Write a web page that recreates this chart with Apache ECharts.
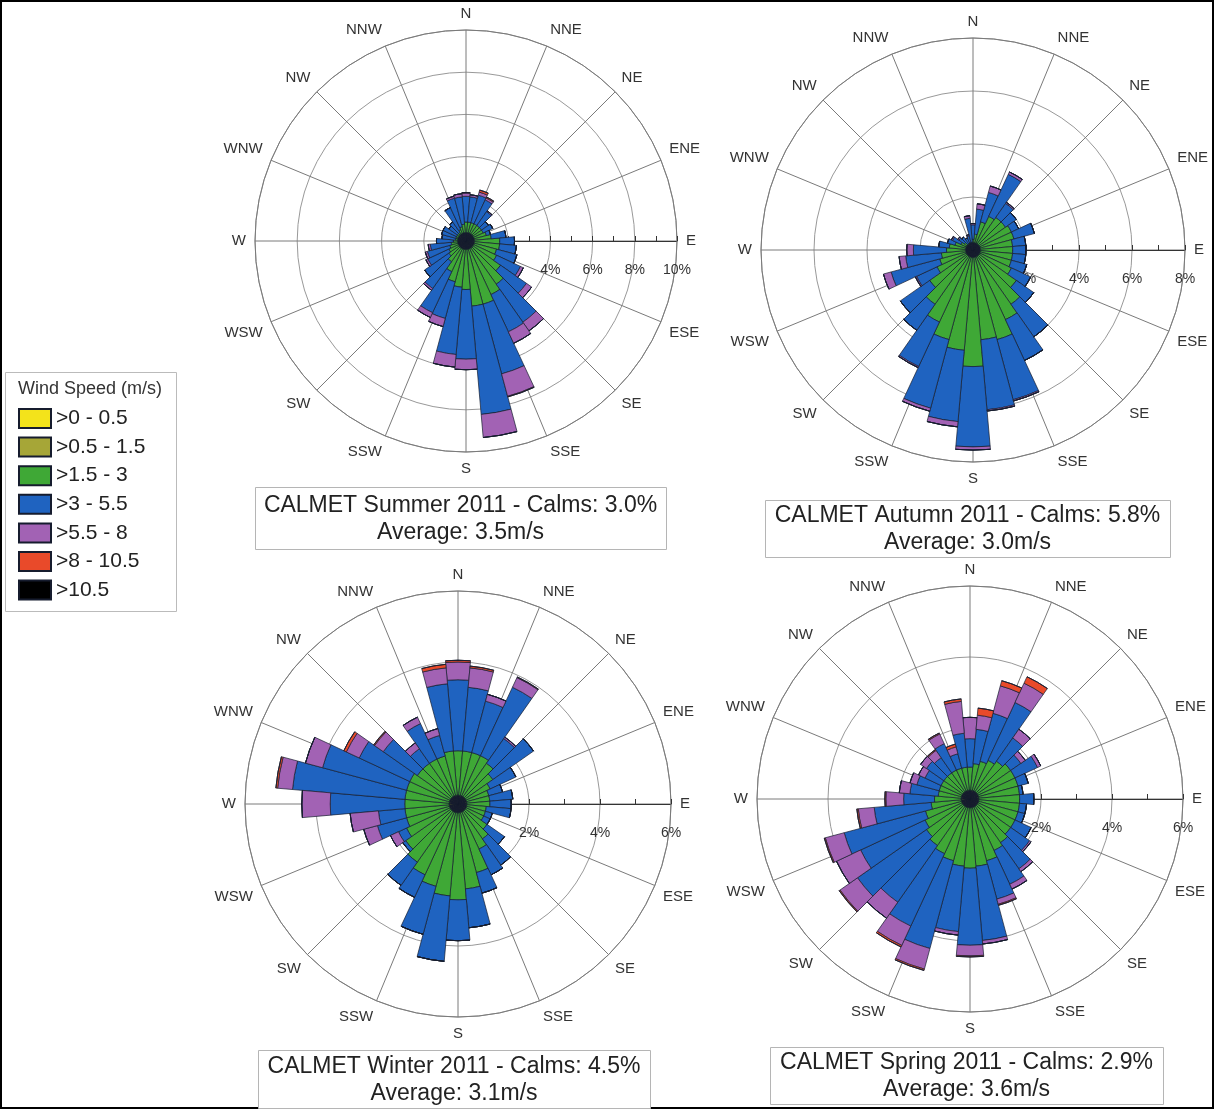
<!DOCTYPE html>
<html>
<head>
<meta charset="utf-8">
<title>CALMET wind roses 2011</title>
<script src="https://cdn.jsdelivr.net/npm/echarts@6/dist/echarts.min.js"></script>
<style>
html, body { margin: 0; padding: 0; background: #fff; }
#chart { width: 1215px; height: 1110px; }
</style>
</head>
<body>
<div id="chart"></div>
<script>
// wind direction sectors (degrees from north, clockwise), 10 deg wide
var directions = [0,10,20,30,40,50,60,70,80,90,100,110,120,130,140,150,160,170,180,190,200,210,220,230,240,250,260,270,280,290,300,310,320,330,340,350];
var compassLabels = ['N','NNE','NE','ENE','E','ESE','SE','SSE','S','SSW','SW','WSW','W','WNW','NW','NNW'];
var speedBins = ['>0 - 0.5', '>0.5 - 1.5', '>1.5 - 3', '>3 - 5.5', '>5.5 - 8', '>8 - 10.5', '>10.5'];
var binColors = ['#f3e31b', '#a6a637', '#3fa836', '#1f63c0', '#a262b4', '#e94a2a', '#000000'];

// frequency (%) per speed bin and direction
var summerYellow = [0.05,0.05,0.05,0.05,0.05,0.05,0.05,0.05,0.05,0.05,0.05,0.05,0.05,0.05,0.05,0.05,0.05,0.05,0.05,0.05,0.05,0.05,0.05,0.05,0.05,0.05,0.05,0.05,0.05,0.05,0.05,0.05,0.05,0.05,0.05,0.05];
var summerOlive = [0.35,0.35,0.35,0.35,0.35,0.35,0.35,0.35,0.35,0.35,0.35,0.35,0.35,0.35,0.35,0.35,0.35,0.35,0.35,0.35,0.35,0.35,0.35,0.35,0.35,0.35,0.35,0.35,0.35,0.35,0.35,0.35,0.35,0.35,0.35,0.35];
var summerGreen = [0.5,0.5,0.5,0.5,0.5,0.5,0.5,0.6,0.8,1.2,1.2,1.1,1.2,1.6,2.1,2.4,2.7,2.7,1.9,1.8,1.6,1.2,0.8,0.6,0.5,0.4,0.3,0.2,0.1,0.1,0.1,0.1,0.1,0.2,0.3,0.4];
var summerBlue = [1.22,1.2,1.35,1.25,0.8,0.4,0.5,0.2,0.7,0.7,0.8,1.0,1.25,1.5,2.2,1.95,3.42,5.15,3.3,3.2,1.8,2.15,1.55,1.4,1.1,1.1,1.0,0.8,0.65,0.7,0.7,0.5,0.6,1.15,1.4,1.3];
var summerPurple = [0.15,0.1,0.15,0.1,0.05,0,0,0,0,0,0,0,0.15,0.3,0.5,0.6,1.1,1.1,0.5,0.6,0.4,0.25,0.1,0,0.1,0.1,0.1,0,0,0,0,0,0,0,0.1,0.15];
var summerRed = [0.03,0,0.1,0.05,0,0,0,0,0,0,0,0,0,0,0,0,0.03,0,0,0,0,0,0,0,0,0,0,0,0,0,0,0,0,0,0,0];
var summerBlack = [0,0,0,0,0,0,0,0,0,0,0,0,0,0,0,0,0,0,0,0,0,0,0,0,0,0,0,0,0,0,0,0,0,0,0,0];

var autumnYellow = [0.03,0.03,0.03,0.03,0.03,0.03,0.03,0.03,0.03,0.03,0.03,0.03,0.03,0.03,0.03,0.03,0.03,0.03,0.03,0.03,0.03,0.03,0.03,0.03,0.03,0.03,0.03,0.03,0.03,0.03,0.03,0.03,0.03,0.03,0.03,0.03];
var autumnOlive = [0.25,0.25,0.25,0.25,0.25,0.25,0.25,0.25,0.25,0.25,0.25,0.25,0.25,0.25,0.25,0.25,0.25,0.25,0.25,0.25,0.25,0.25,0.25,0.25,0.25,0.25,0.25,0.25,0.25,0.25,0.25,0.25,0.25,0.25,0.25,0.25];
var autumnGreen = [0.12,0.32,0.82,1.12,1.22,1.22,1.32,1.32,1.22,1.22,1.22,1.22,1.32,1.72,2.22,2.62,3.22,3.12,4.12,3.52,3.22,2.72,2.22,1.72,1.22,1.02,0.92,0.72,0.62,0.42,0.22,0.12,0.02,0.02,0.02,0.02];
var autumnBlue = [0.55,0.95,1.15,1.75,0.65,0.5,0.3,0.8,0.5,0.5,0.5,0.6,0.8,0.8,1.5,1.7,2.35,2.65,3.03,2.7,2.68,1.85,1.2,1.35,0.85,1.9,1.35,1.25,0.4,0.3,0.35,0.25,0.3,0.2,0.25,0.9];
var autumnPurple = [0.05,0.2,0.25,0.1,0.05,0,0,0,0,0,0,0,0,0,0,0,0.05,0.05,0.12,0.2,0.12,0.05,0,0,0.05,0.3,0.25,0.25,0,0,0.05,0.05,0,0,0.05,0.1];
var autumnRed = [0,0,0,0,0,0,0,0,0,0,0,0,0,0,0,0,0,0,0,0,0,0,0,0,0,0,0,0,0,0,0,0,0,0,0,0];
var autumnBlack = [0,0,0,0,0,0,0,0,0,0,0,0,0,0,0,0,0,0,0,0,0,0,0,0,0,0,0,0,0,0,0,0,0,0,0,0];

var winterYellow = [0.03,0.03,0.03,0.03,0.03,0.03,0.03,0.03,0.03,0.03,0.03,0.03,0.03,0.03,0.03,0.03,0.03,0.03,0.03,0.03,0.03,0.03,0.03,0.03,0.03,0.03,0.03,0.03,0.03,0.03,0.03,0.03,0.03,0.03,0.03,0.03];
var winterOlive = [0.22,0.22,0.22,0.22,0.22,0.22,0.22,0.22,0.22,0.22,0.22,0.22,0.22,0.22,0.22,0.22,0.22,0.22,0.22,0.22,0.22,0.22,0.22,0.22,0.22,0.22,0.22,0.22,0.22,0.22,0.22,0.22,0.22,0.22,0.22,0.22];
var winterGreen = [1.25,1.25,1.25,1.25,1.15,0.95,0.75,0.65,0.65,0.65,0.55,0.55,0.55,0.75,0.95,1.15,1.75,2.15,2.45,2.35,2.15,1.95,1.75,1.55,1.35,1.25,1.25,1.25,1.25,1.25,1.25,1.15,1.15,1.15,1.15,1.25];
var winterBlue = [2.0,1.8,1.5,2.13,0.85,1.4,0.8,0.4,0.65,0.6,0.7,0.2,0.2,0.6,0.9,0.8,0.6,1.1,1.15,1.85,1.4,0.7,0.8,0.1,0.25,0.85,0.75,2.1,3.18,2.45,1.57,1.17,0.5,1.1,0.6,1.9];
var winterPurple = [0.5,0.55,0.2,0.3,0.05,0,0,0,0,0,0,0,0,0,0,0,0,0,0,0,0,0,0,0,0.25,0.4,0.8,0.8,0.42,0.5,0.4,0.3,0.2,0.2,0.2,0.45];
var winterRed = [0.05,0.05,0,0.02,0,0,0,0,0,0,0,0,0,0,0,0,0,0,0,0,0,0,0,0,0,0,0,0,0.05,0,0.08,0.03,0,0,0,0.1];
var winterBlack = [0,0,0,0,0,0,0,0,0,0,0,0,0,0,0,0,0,0,0,0,0,0,0,0,0,0,0,0,0,0,0,0,0,0,0,0];

var springYellow = [0.03,0.03,0.03,0.03,0.03,0.03,0.03,0.03,0.03,0.03,0.03,0.03,0.03,0.03,0.03,0.03,0.03,0.03,0.03,0.03,0.03,0.03,0.03,0.03,0.03,0.03,0.03,0.03,0.03,0.03,0.03,0.03,0.03,0.03,0.03,0.03];
var springOlive = [0.22,0.22,0.22,0.22,0.22,0.22,0.22,0.22,0.22,0.22,0.22,0.22,0.22,0.22,0.22,0.22,0.22,0.22,0.22,0.22,0.22,0.22,0.22,0.22,0.22,0.22,0.22,0.22,0.22,0.22,0.22,0.22,0.22,0.22,0.22,0.22];
var springGreen = [0.65,0.75,0.85,0.95,1.05,1.15,1.15,1.15,1.15,1.15,1.15,1.15,1.15,1.15,1.25,1.35,1.55,1.65,1.7,1.65,1.55,1.45,1.35,1.25,1.15,1.05,0.85,0.75,0.65,0.65,0.65,0.65,0.65,0.65,0.65,0.65];
var springBlue = [0.8,0.97,1.4,1.8,0.8,0.35,0.7,0.3,0.1,0.4,0.2,0.2,0.5,0.65,0.9,1.05,1.12,2.1,2.17,1.85,2.56,2.25,1.95,2.37,2.0,2.37,1.61,0.87,0.8,0.65,0.5,0.6,0.52,0.82,0.42,0.96];
var springPurple = [0.6,0.4,0.8,0.6,0.3,0.15,0.1,0,0,0,0,0,0,0.05,0.1,0.15,0.15,0.1,0.3,0.1,0.6,0.6,0.55,0.6,0.75,0.55,0.45,0.5,0.3,0.2,0.2,0.2,0.25,0.3,0.2,0.9];
var springRed = [0,0.2,0.15,0.2,0,0,0,0,0,0,0,0,0,0,0,0,0.03,0,0.03,0,0.04,0.05,0,0.03,0,0.03,0.04,0.03,0,0,0,0,0.03,0.03,0.08,0.07];
var springBlack = [0,0,0,0,0,0,0,0,0,0,0,0,0,0,0,0,0,0,0,0,0,0,0,0,0,0,0,0,0,0,0,0,0,0,0,0];

var seasonBins = [
  [summerYellow, summerOlive, summerGreen, summerBlue, summerPurple, summerRed, summerBlack],
  [autumnYellow, autumnOlive, autumnGreen, autumnBlue, autumnPurple, autumnRed, autumnBlack],
  [winterYellow, winterOlive, winterGreen, winterBlue, winterPurple, winterRed, winterBlack],
  [springYellow, springOlive, springGreen, springBlue, springPurple, springRed, springBlack]
];
var radiusMax = [10, 8, 6, 6];
var captions = [
  'CALMET Summer 2011 - Calms: 3.0%\nAverage: 3.5m/s',
  'CALMET Autumn 2011 - Calms: 5.8%\nAverage: 3.0m/s',
  'CALMET Winter 2011 - Calms: 4.5%\nAverage: 3.1m/s',
  'CALMET Spring 2011 - Calms: 2.9%\nAverage: 3.6m/s'
];

// layout
var centers = [[466, 241], [973, 250], [458, 804], [970, 799]];
var radii = [211, 212, 213, 213];
var captionBoxes = [[255, 487, 411, 62], [765, 500, 405, 57], [258, 1050, 392, 58], [770, 1047, 393, 57]];

var FONT = '"Liberation Sans", Arial, sans-serif';

var polar = [], angleAxis = [], radiusAxis = [], series = [];
for (var i = 0; i < 4; i++) {
  // grid (compass spokes, rings, % labels)
  polar.push({ center: centers[i], radius: radii[i] });
  // bars
  polar.push({ center: centers[i], radius: radii[i] });

  angleAxis.push({
    polarIndex: 2 * i,
    type: 'value', min: 0, max: 360, interval: 22.5,
    startAngle: 0, clockwise: true,
    axisLine: { lineStyle: { color: '#7a7a7a', width: 1 } },
    axisTick: { show: false },
    splitLine: { show: true, lineStyle: { color: '#7a7a7a', width: 1 } },
    axisLabel: {
      margin: 9, fontSize: 15, color: '#333', fontFamily: FONT,
      formatter: function (v) {
        var bearing = (v + 90) % 360;
        return compassLabels[Math.round(bearing / 22.5) % 16];
      }
    }
  });
  radiusAxis.push({
    polarIndex: 2 * i,
    type: 'value', min: 0, max: radiusMax[i], interval: 2,
    axisLine: { lineStyle: { color: '#333', width: 1 } },
    axisTick: { show: true, length: 5, lineStyle: { color: '#333' } },
    minorTick: { show: true, splitNumber: 2, length: 5, lineStyle: { color: '#333' } },
    splitLine: { show: true, lineStyle: { color: '#999', width: 1 } },
    axisLabel: {
      margin: -29, verticalAlign: 'middle', align: 'center',
      fontSize: 14, color: '#333', fontFamily: FONT,
      formatter: function (v) { return v === 0 ? '' : v + '%'; }
    }
  });
  angleAxis.push({
    polarIndex: 2 * i + 1,
    type: 'category', data: directions,
    startAngle: 95, clockwise: true, boundaryGap: true,
    show: false
  });
  radiusAxis.push({
    polarIndex: 2 * i + 1,
    type: 'value', min: 0, max: radiusMax[i],
    show: false
  });

  for (var b = 0; b < speedBins.length; b++) {
    series.push({
      type: 'bar',
      name: speedBins[b],
      coordinateSystem: 'polar',
      polarIndex: 2 * i + 1,
      stack: 'rose' + i,
      barCategoryGap: '0%',
      z: 5,
      data: seasonBins[i][b],
      silent: true,
      itemStyle: { color: binColors[b], borderColor: '#161c2e', borderWidth: b < 2 ? 1.3 : 0.7 }
    });
  }
}

var graphic = [
  { type: 'rect', shape: { x: 1, y: 1, width: 1212, height: 1107 }, style: { fill: 'none', stroke: '#000', lineWidth: 2 }, silent: true },
  { type: 'rect', shape: { x: 5.5, y: 372.5, width: 171, height: 239 }, style: { fill: 'none', stroke: '#bbb', lineWidth: 1 }, silent: true },
  { type: 'text', x: 18, y: 389, style: { text: 'Wind Speed (m/s)', fontSize: 18, fontFamily: FONT, fill: '#333', verticalAlign: 'middle' }, silent: true }
];
for (var k = 0; k < 4; k++) {
  var bx = captionBoxes[k];
  graphic.push({ type: 'rect', shape: { x: bx[0] + 0.5, y: bx[1] + 0.5, width: bx[2], height: bx[3] }, style: { fill: '#fff', stroke: '#b5b5b5', lineWidth: 1 }, silent: true });
  graphic.push({ type: 'text', x: bx[0] + bx[2] / 2, y: bx[1] + bx[3] / 2 + 1, style: { text: captions[k], fontSize: 23, lineHeight: 27, fontFamily: FONT, fill: '#222', align: 'center', verticalAlign: 'middle' }, silent: true });
}

var chart = echarts.init(document.getElementById('chart'));
chart.setOption({
  animation: false,
  backgroundColor: '#fff',
  textStyle: { fontFamily: FONT },
  polar: polar,
  angleAxis: angleAxis,
  radiusAxis: radiusAxis,
  legend: {
    data: speedBins,
    orient: 'vertical',
    left: 13, top: 403,
    icon: 'rect',
    itemWidth: 32, itemHeight: 19, itemGap: 7.6,
    textStyle: { fontSize: 21, lineHeight: 21, color: '#222', fontFamily: FONT },
    selectedMode: false
  },
  graphic: graphic,
  series: series
});
</script>
</body>
</html>
